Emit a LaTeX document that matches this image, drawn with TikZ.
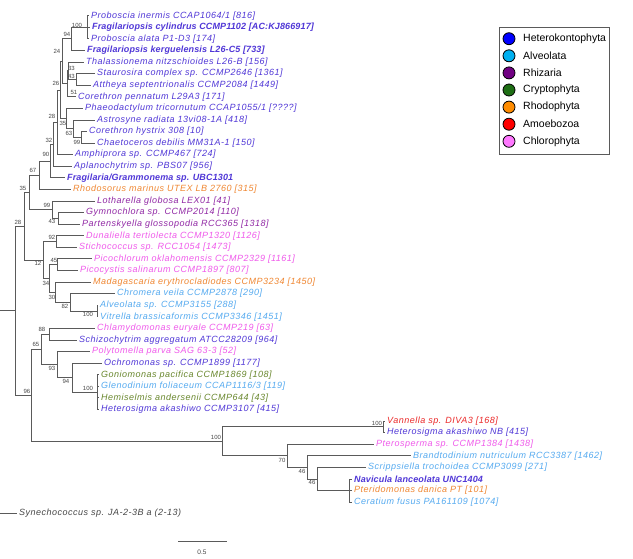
\documentclass[tikz,border=0pt]{standalone}
\usepackage{fontspec}
\setmainfont{Liberation Sans}
\newfontfamily\treefont[LetterSpace=5.5]{Liberation Sans}
\newfontfamily\treefontb[LetterSpace=1.5]{Liberation Sans}
\definecolor{hk}{RGB}{80,55,215}
\definecolor{al}{RGB}{85,170,240}
\definecolor{rh}{RGB}{145,40,165}
\definecolor{cr}{RGB}{105,135,45}
\definecolor{ro}{RGB}{240,135,50}
\definecolor{am}{RGB}{235,40,40}
\definecolor{ch}{RGB}{240,90,235}
\definecolor{sy}{RGB}{70,70,70}
\definecolor{lhk}{RGB}{0,0,255}
\definecolor{lal}{RGB}{0,176,240}
\definecolor{lrh}{RGB}{112,0,130}
\definecolor{lcr}{RGB}{30,110,20}
\definecolor{lro}{RGB}{255,140,0}
\definecolor{lam}{RGB}{255,0,0}
\definecolor{lch}{RGB}{255,120,255}
\definecolor{brc}{RGB}{90,90,90}
\definecolor{bsc}{RGB}{70,70,70}
\tikzset{
 leafs/.style={anchor=west, inner xsep=2pt, inner ysep=0pt, font=\treefont\itshape\fontsize{9}{10}\selectfont},
 leafb/.style={anchor=west, inner xsep=2pt, inner ysep=0pt, font=\treefontb\bfseries\itshape\fontsize{9}{10}\selectfont},
 br/.style={draw=brc, line width=0.8pt},
 bs/.style={font=\fontsize{6}{6}\selectfont, text=bsc, inner sep=0pt},
 legc/.style={circle, draw=black, line width=0.8pt, minimum size=12pt, inner sep=0pt},
 legt/.style={anchor=west, inner xsep=2pt, font=\fontsize{10.5}{12}\selectfont},
}
\begin{document}
\begin{tikzpicture}[x=1pt,y=-1pt]
\useasboundingbox[fill=white] (0,0) rectangle (633,558);
% leaves
\node[leafs,text=hk] (l1) at (89,15.7) {Proboscia inermis CCAP1064/1 [816]};
\node[leafb,text=hk] (l2) at (90,27.28) {Fragilariopsis cylindrus CCMP1102 [AC:KJ866917]};
\node[leafs,text=hk] (l3) at (89,38.86) {Proboscia alata P1-D3 [174]};
\node[leafb,text=hk] (l4) at (85,50.44) {Fragilariopsis kerguelensis L26-C5 [733]};
\node[leafs,text=hk] (l5) at (84,62.02) {Thalassionema nitzschioides L26-B [156]};
\node[leafs,text=hk] (l6) at (95,73.6) {Staurosira complex sp. CCMP2646 [1361]};
\node[leafs,text=hk] (l7) at (91,85.18) {Attheya septentrionalis CCMP2084 [1449]};
\node[leafs,text=hk] (l8) at (76,96.76) {Corethron pennatum L29A3 [171]};
\node[leafs,text=hk] (l9) at (83,108.34) {Phaeodactylum tricornutum CCAP1055/1 [????]};
\node[leafs,text=hk] (l10) at (95,119.92) {Astrosyne radiata 13vi08-1A [418]};
\node[leafs,text=hk] (l11) at (87,131.5) {Corethron hystrix 308 [10]};
\node[leafs,text=hk] (l12) at (95,143.08) {Chaetoceros debilis MM31A-1 [150]};
\node[leafs,text=hk] (l13) at (73,154.66) {Amphiprora sp. CCMP467 [724]};
\node[leafs,text=hk] (l14) at (72,166.24) {Aplanochytrim sp. PBS07 [956]};
\node[leafb,text=hk] (l15) at (65,177.82) {Fragilaria/Grammonema sp. UBC1301};
\node[leafs,text=ro] (l16) at (71,189.4) {Rhodosorus marinus UTEX LB 2760 [315]};
\node[leafs,text=rh] (l17) at (95,200.98) {Lotharella globosa LEX01 [41]};
\node[leafs,text=rh] (l18) at (84,212.56) {Gymnochlora sp. CCMP2014 [110]};
\node[leafs,text=rh] (l19) at (80,224.14) {Partenskyella glossopodia RCC365 [1318]};
\node[leafs,text=ch] (l20) at (84,235.72) {Dunaliella tertiolecta CCMP1320 [1126]};
\node[leafs,text=ch] (l21) at (77,247.3) {Stichococcus sp. RCC1054 [1473]};
\node[leafs,text=ch] (l22) at (92,258.88) {Picochlorum oklahomensis CCMP2329 [1161]};
\node[leafs,text=ch] (l23) at (78,270.46) {Picocystis salinarum CCMP1897 [807]};
\node[leafs,text=ro] (l24) at (91,282.04) {Madagascaria erythrocladiodes CCMP3234 [1450]};
\node[leafs,text=al] (l25) at (115,293.62) {Chromera veila CCMP2878 [290]};
\node[leafs,text=al] (l26) at (98,305.2) {Alveolata sp. CCMP3155 [288]};
\node[leafs,text=al] (l27) at (98,316.78) {Vitrella brassicaformis CCMP3346 [1451]};
\node[leafs,text=ch] (l28) at (95,328.36) {Chlamydomonas euryale CCMP219 [63]};
\node[leafs,text=hk] (l29) at (77,339.94) {Schizochytrim aggregatum ATCC28209 [964]};
\node[leafs,text=ch] (l30) at (90,351.52) {Polytomella parva SAG 63-3 [52]};
\node[leafs,text=hk] (l31) at (102,363.1) {Ochromonas sp. CCMP1899 [1177]};
\node[leafs,text=cr] (l32) at (99,374.68) {Goniomonas pacifica CCMP1869 [108]};
\node[leafs,text=al] (l33) at (99,386.26) {Glenodinium foliaceum CCAP1116/3 [119]};
\node[leafs,text=cr] (l34) at (99,397.84) {Hemiselmis andersenii CCMP644 [43]};
\node[leafs,text=hk] (l35) at (99,409.42) {Heterosigma akashiwo CCMP3107 [415]};
\node[leafs,text=am] (l36) at (385,421.0) {Vannella sp. DIVA3 [168]};
\node[leafs,text=hk] (l37) at (385,432.58) {Heterosigma akashiwo NB [415]};
\node[leafs,text=ch] (l38) at (374,444.16) {Pterosperma sp. CCMP1384 [1438]};
\node[leafs,text=al] (l39) at (411,455.74) {Brandtodinium nutriculum RCC3387 [1462]};
\node[leafs,text=al] (l40) at (366,467.32) {Scrippsiella trochoidea CCMP3099 [271]};
\node[leafb,text=hk] (l41) at (352,478.9) {Navicula lanceolata UNC1404};
\node[leafs,text=ro] (l42) at (352,490.48) {Pteridomonas danica PT [101]};
\node[leafs,text=al] (l43) at (352,502.06) {Ceratium fusus PA161109 [1074]};
\node[leafs,text=sy] (l44) at (17,513.64) {Synechococcus sp. JA-2-3B a (2-13)};
% internal nodes
\coordinate (n100) at (87,27.28);
\coordinate (n94) at (71,38.86);
\coordinate (nsa) at (76,79.39);
\coordinate (nts) at (68.5,70.7);
\coordinate (ntc) at (67,83.73);
\coordinate (n24) at (62,61.3);
\coordinate (nch) at (81,137.29);
\coordinate (na) at (73,128.6);
\coordinate (ph) at (66,118.47);
\coordinate (n26) at (60,89.9);
\coordinate (n28a) at (57,122.28);
\coordinate (n32) at (53,144.26);
\coordinate (n90) at (50,161.04);
\coordinate (n67) at (39,175.22);
\coordinate (n43r) at (58,218.35);
\coordinate (n99r) at (52,209.67);
\coordinate (n35) at (29,192.45);
\coordinate (n92) at (56,241.5);
\coordinate (n45) at (57,264.67);
\coordinate (n100a) at (97,310.99);
\coordinate (n82) at (70,302.3);
\coordinate (n30) at (55,292.17);
\coordinate (n34) at (49,278.42);
\coordinate (n12) at (43,259.96);
\coordinate (n28) at (24,226.2);
\coordinate (n88) at (49,334.15);
\coordinate (n100p) at (97,392.05);
\coordinate (n94b) at (72,377.58);
\coordinate (n93) at (57,364.55);
\coordinate (n65) at (41,349.35);
\coordinate (nv) at (383,426.79);
\coordinate (n46b) at (349,490.48);
\coordinate (n46a) at (317,478.9);
\coordinate (n46) at (307,467.32);
\coordinate (n70) at (287,455.74);
\coordinate (nbig) at (222,441.27);
\coordinate (n96) at (31,395.31);
\coordinate (root) at (15,310.76);
\coordinate (r0) at (0,310.76);
\coordinate (o0) at (0,513.64);
% branches
\foreach \p/\c in {n100/l1.west,n100/l2.west,n100/l3.west,n94/n100,n94/l4.west,
 nsa/l6.west,nsa/l7.west,nts/l5.west,nts/nsa,ntc/nts,ntc/l8.west,n24/n94,n24/ntc,
 nch/l11.west,nch/l12.west,na/l10.west,na/nch,ph/l9.west,ph/na,n26/n24,n26/ph,
 n28a/n26,n28a/l13.west,n32/n28a,n32/l14.west,n90/n32,n90/l15.west,n67/n90,n67/l16.west,
 n43r/l18.west,n43r/l19.west,n99r/l17.west,n99r/n43r,n35/n67,n35/n99r,
 n92/l20.west,n92/l21.west,n45/l22.west,n45/l23.west,n100a/l26.west,n100a/l27.west,
 n82/l25.west,n82/n100a,n30/l24.west,n30/n82,n34/n45,n34/n30,n12/n92,n12/n34,
 n28/n35,n28/n12,n88/l28.west,n88/l29.west,
 n100p/l32.west,n100p/l33.west,n100p/l34.west,n100p/l35.west,n94b/l31.west,n94b/n100p,
 n93/l30.west,n93/n94b,n65/n88,n65/n93,
 nv/l36.west,nv/l37.west,n46b/l41.west,n46b/l42.west,n46b/l43.west,n46a/l40.west,n46a/n46b,
 n46/l39.west,n46/n46a,n70/l38.west,n70/n46,nbig/nv,nbig/n70,n96/n65,n96/nbig,
 root/n28,root/n96}
 {\draw[br] (\p) |- (\c);}
\draw[br] (r0) -- (root);
\draw[br] (o0) -- (l44.west);
% bootstrap values
\node[bs] (b1) at (77,25) {100};
\node[bs] (b2) at (67,34) {94};
\node[bs] (b3) at (57,51) {24};
\node[bs] (b4) at (71.5,68) {33};
\node[bs] (b5) at (71.5,76.5) {43};
\node[bs] (b6) at (74,92) {51};
\node[bs] (b7) at (56,83) {26};
\node[bs] (b8) at (52,116) {28};
\node[bs] (b9) at (63,123) {35};
\node[bs] (b10) at (69,133) {63};
\node[bs] (b11) at (77,142) {99};
\node[bs] (b12) at (49,140) {32};
\node[bs] (b13) at (46,154) {90};
\node[bs] (b14) at (33,170) {67};
\node[bs] (b15) at (23,188) {35};
\node[bs] (b16) at (47,205) {99};
\node[bs] (b17) at (52,221) {43};
\node[bs] (b18) at (18,222) {28};
\node[bs] (b19) at (52,237) {92};
\node[bs] (b20) at (54,260) {45};
\node[bs] (b21) at (38,263) {12};
\node[bs] (b22) at (46,283) {34};
\node[bs] (b23) at (52,297) {30};
\node[bs] (b24) at (65,306) {82};
\node[bs] (b25) at (88,314.5) {100};
\node[bs] (b26) at (42,329) {88};
\node[bs] (b27) at (36,344) {65};
\node[bs] (b28) at (52,368.5) {93};
\node[bs] (b29) at (66,381.5) {94};
\node[bs] (b30) at (88,388.5) {100};
\node[bs] (b31) at (27,391) {96};
\node[bs] (b32) at (216,437) {100};
\node[bs] (b33) at (377,423) {100};
\node[bs] (b34) at (282,460) {70};
\node[bs] (b35) at (302,471) {46};
\node[bs] (b36) at (312,482) {46};
% scale bar
\coordinate (s1) at (178,541.7);
\coordinate (s2) at (227,541.7);
\draw[br] (s1) -- (s2);
\node[bs, font=\fontsize{6.5}{7}\selectfont] (sl) at (202,552) {0.5};
% legend
\node[draw=brc, line width=0.8pt, minimum width=110pt, minimum height=127pt, anchor=north west, inner sep=0pt] (leg) at (499,27) {};
\node[legc, fill=lhk] (c1) at (509,38.7) {};
\node[legc, fill=lal] (c2) at (509,55.8) {};
\node[legc, fill=lrh] (c3) at (509,72.9) {};
\node[legc, fill=lcr] (c4) at (509,90.0) {};
\node[legc, fill=lro] (c5) at (509,107.1) {};
\node[legc, fill=lam] (c6) at (509,124.2) {};
\node[legc, fill=lch] (c7) at (509,141.3) {};
\node[legt] (t1) at (521,38.7) {Heterokontophyta};
\node[legt] (t2) at (521,55.8) {Alveolata};
\node[legt] (t3) at (521,72.9) {Rhizaria};
\node[legt] (t4) at (521,90.0) {Cryptophyta};
\node[legt] (t5) at (521,107.1) {Rhodophyta};
\node[legt] (t6) at (521,124.2) {Amoebozoa};
\node[legt] (t7) at (521,141.3) {Chlorophyta};
\end{tikzpicture}
\end{document}
